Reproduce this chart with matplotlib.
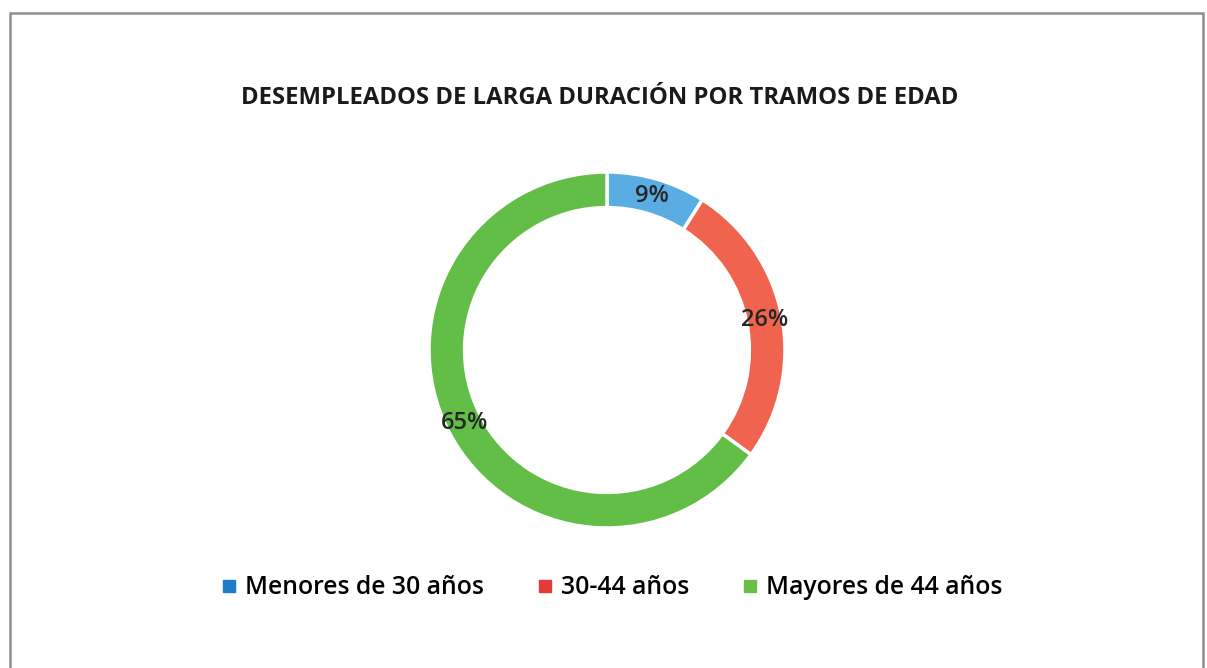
import matplotlib
matplotlib.use("Agg")
import matplotlib.pyplot as plt
from matplotlib.lines import Line2D
from matplotlib.patches import Rectangle

# data
categories = ["Menores de 30 años", "30-44 años", "Mayores de 44 años"]
shares = [9, 26, 65]
wedge_colors = ["#5aade2", "#f0644f", "#63be47"]
legend_colors = ["#1f7bc4", "#e23b3b", "#6bbf48"]
title = "DESEMPLEADOS DE LARGA DURACIÓN POR TRAMOS DE EDAD"

plt.rcParams['font.family'] = ['Open Sans', 'DejaVu Sans']

W, H = 1207, 668
fig = plt.figure(figsize=(W / 100, H / 100), dpi=100)

# grey frame round the chart (bottom edge runs off the picture)
fig.patches.append(Rectangle((10 / W, -0.05), (1203 - 10) / W, 1 - 13 / H + 0.05,
                             transform=fig.transFigure, fill=False,
                             edgecolor="#8f8f8f", linewidth=1.8))

cx, cy, R = 607, 350, 178
ax = fig.add_axes([(cx - R) / W, (H - cy - R) / H, 2 * R / W, 2 * R / H])

wedges, texts = ax.pie(shares, colors=wedge_colors, startangle=90, counterclock=False,
                       radius=1.0, wedgeprops=dict(width=0.2, edgecolor="white", linewidth=2.5),
                       labels=[f"{v}%" for v in shares], labeldistance=0.9,
                       textprops=dict(fontsize=17, fontweight="semibold", color="#262626"))
for t in texts:
    t.set_ha("center")
    t.set_va("center")
ax.set_xlim(-1, 1)
ax.set_ylim(-1, 1)
ax.set_aspect("equal")
ax.axis("off")

fig.text(0.497, 1 - 98 / H, title, ha="center", va="center",
         fontsize=17.2, fontweight="bold", color="#1a1a1a")

handles = [Line2D([], [], marker="s", linestyle="none", markersize=8,
                  markerfacecolor=c, markeredgecolor=c) for c in legend_colors]
fig.legend(handles, categories, loc="center", bbox_to_anchor=(0.506, 1 - 588 / H),
           ncol=3, frameon=False, handletextpad=0.25, columnspacing=2.05,
           handlelength=0.8, prop=dict(size=17.8, weight="semibold"))

fig.savefig("out.png", dpi=100, facecolor="white")
